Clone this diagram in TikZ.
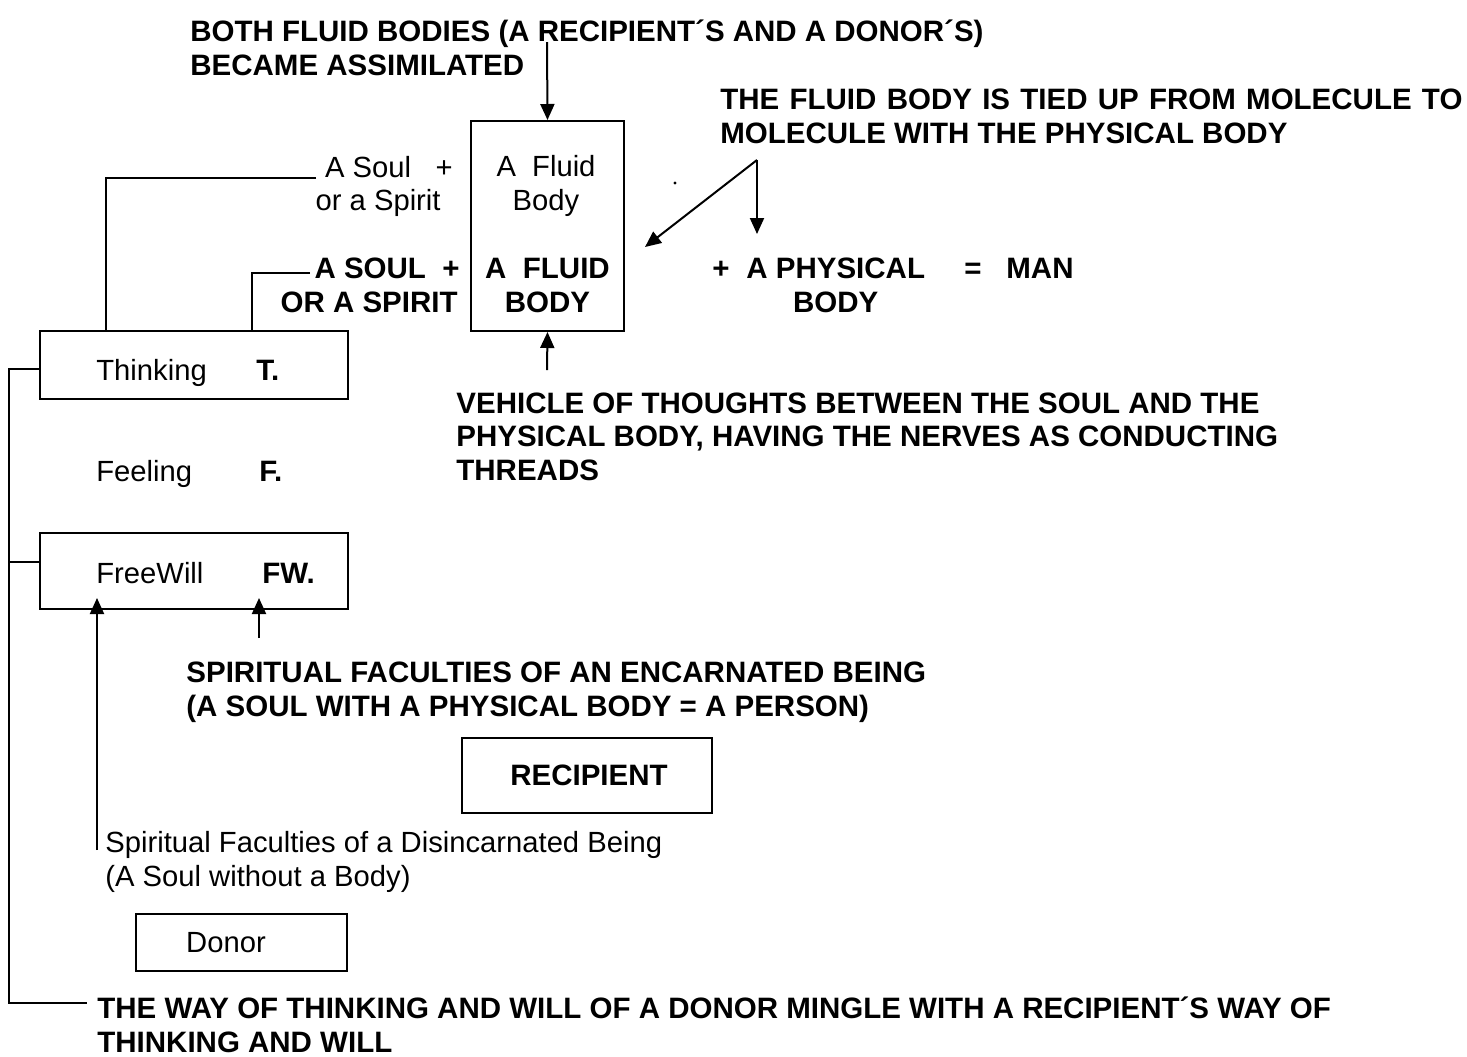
\documentclass[tikz,border=0pt]{standalone}
\usepackage{fontspec}
\setmainfont{Liberation Sans}
\usetikzlibrary{arrows.meta}

\begin{document}
\begin{tikzpicture}[x=0.5pt, y=-0.5pt,
    every node/.style={inner sep=0pt, font=\fontsize{14.6}{16.6}\selectfont},
    bold/.style={font=\fontsize{14.75}{16.6}\selectfont\bfseries},
    txt/.style={anchor=base west, align=left},
    box/.style={draw, line width=1pt},
    conn/.style={line width=1pt},
    arr/.style={line width=1pt, -{Triangle[length=8pt, width=7pt]}}]
    \useasboundingbox (0,0) rectangle (1467,1056);
    % boxes
    \node[box, minimum width=76.5pt, minimum height=105pt] (fluid) at (547.5,226) {};
    \node[box, minimum width=154pt, minimum height=34pt] (think) at (194,365) {};
    \node[box, minimum width=154pt, minimum height=38pt] (will) at (194,571) {};
    \node[box, minimum width=125pt, minimum height=37.5pt] (recip) at (587,775.5) {};
    \node[box, minimum width=105.5pt, minimum height=28.5pt] (donor) at (241.5,942.5) {};
    % texts (multi-line nodes sit on their last baseline)
    \node[bold, txt] (both) at (190,75) {BOTH FLUID BODIES (A RECIPIENT´S AND A DONOR´S)\\BECAME ASSIMILATED};
    \node[bold, txt] (tied) at (720,143) {\makebox[371pt][s]{THE FLUID BODY IS TIED UP FROM MOLECULE TO}\\MOLECULE WITH THE PHYSICAL BODY};
    \node[anchor=base east] (soula) at (453,177) {A Soul \ \ +};
    \node[anchor=base east] (soulb) at (441,210) {or a Spirit};
    \node[bold, anchor=base east] (soulc) at (460,278) {A SOUL \ +};
    \node[bold, anchor=base east] (sould) at (458,312) {OR A SPIRIT};
    \node[anchor=base, align=center] (fla) at (546,210) {A \ Fluid\\Body};
    \node[bold, anchor=base, align=center] (flb) at (547.5,312) {A \ FLUID\\BODY};
    \node[bold, anchor=base west] (plus) at (712,278) {+};
    \node[bold, anchor=base west] (phys) at (746,278) {A PHYSICAL};
    \node[bold, anchor=base] (physb) at ([yshift=-17pt]phys.base) {BODY};
    \node[bold, anchor=base west] (eq) at (964,278) {=};
    \node[bold, anchor=base west] (man) at (1006,278) {MAN};
    \node[bold, txt] (vehicle) at (456,480) {VEHICLE OF THOUGHTS BETWEEN THE SOUL AND THE\\PHYSICAL BODY, HAVING THE NERVES AS CONDUCTING\\THREADS};
    \node[anchor=base west] (thinkt) at (96,380) {Thinking};
    \node[bold, anchor=base west] (thinkl) at (256,380) {T.};
    \node[anchor=base west] (feel) at (96,481) {Feeling};
    \node[bold, anchor=base west] (feell) at (259,481) {F.};
    \node[anchor=base west] (willt) at (96,583) {FreeWill};
    \node[bold, anchor=base west] (willl) at (262,583) {FW.};
    \node[bold, txt] (enc) at (186,716) {SPIRITUAL FACULTIES OF AN ENCARNATED BEING\\(A SOUL WITH A PHYSICAL BODY = A PERSON)};
    \node[bold] (recipt) at (589,775.5) {RECIPIENT};
    \node[txt] (disinc) at (105,886) {Spiritual Faculties of a Disincarnated Being\\(A Soul without a Body)};
    \node (donort) at (226,942.5) {Donor};
    \node[bold, txt] (way) at (97,1052) {THE WAY OF THINKING AND WILL OF A DONOR MINGLE WITH A RECIPIENT´S WAY OF\\THINKING AND WILL};
    \fill (675,183) circle (0.8pt);
    % connectors
    \coordinate (apex) at (757,160);
    \coordinate (left) at (9,1003);
    \draw[arr] (547,42) -- (fluid.north);
    \draw[arr] (547,370) -- (fluid.south);
    \draw[arr] (apex) -- (645,247);
    \draw[arr] (apex) -- (757,234);
    \draw[conn] (316,178) -| (think.north -| 106,0);
    \draw[conn] (310,273) -| (think.north -| 252,0);
    \draw[conn] ([yshift=-2pt]think.west) -- ([yshift=-2pt]think.west -| left) -- (left) -- (87,1003);
    \draw[conn] ([yshift=4.5pt]will.west) -- ([yshift=4.5pt]will.west -| left);
    \draw[arr] (97,850) -- (97,598);
    \draw[arr] (259,638) -- (259,598);
\end{tikzpicture}
\end{document}
